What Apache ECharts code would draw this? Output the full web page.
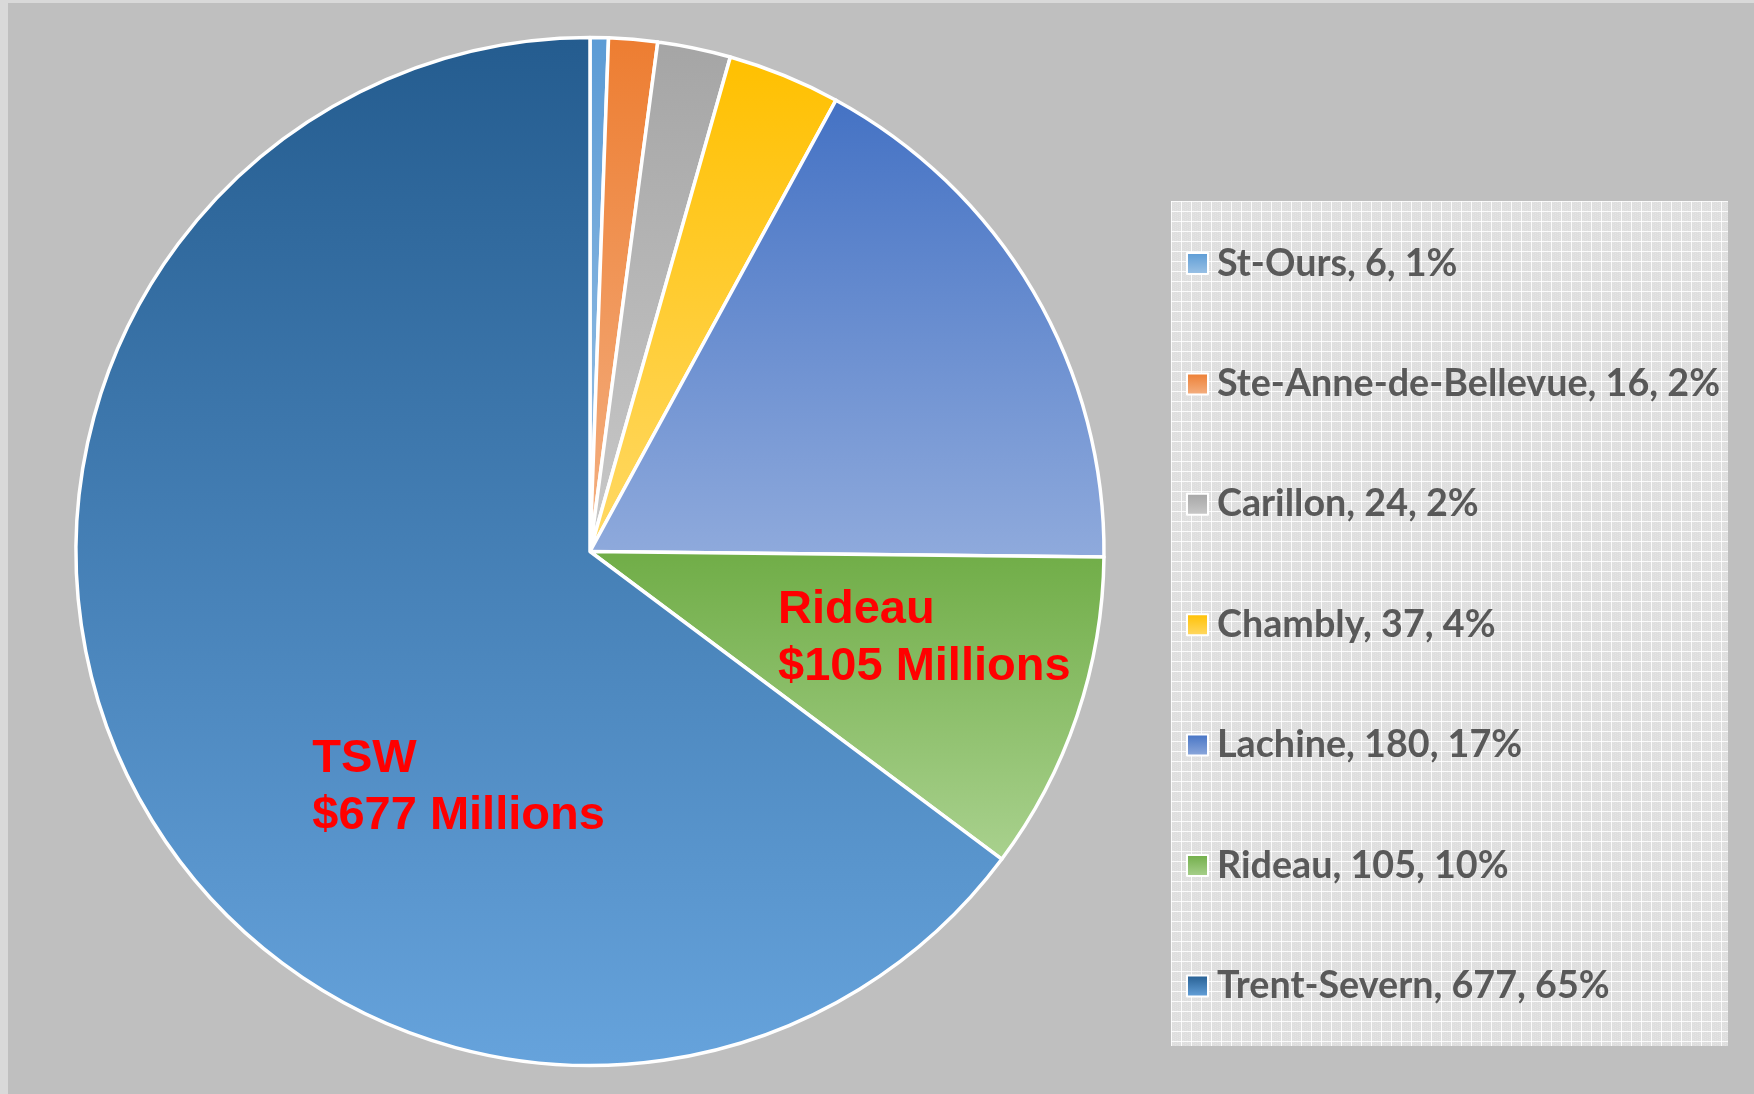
<!DOCTYPE html>
<html>
<head>
<meta charset="utf-8">
<title>Canal assets</title>
<script src="https://cdn.jsdelivr.net/npm/echarts@6/dist/echarts.min.js"></script>
<style>
  html, body {
    margin: 0;
    padding: 0;
    width: 1754px;
    height: 1094px;
    background: #d9d9d9;
    overflow: hidden;
  }
  #chart {
    position: absolute;
    left: 8px;
    top: 3px;
    width: 1746px;
    height: 1091px;
    background: #bfbfbf;
  }
</style>
</head>
<body>
<div id="chart"></div>
<script>
// data (millions of dollars)
var canals = ["St-Ours", "Ste-Anne-de-Bellevue", "Carillon", "Chambly", "Lachine", "Rideau", "Trent-Severn"];
var values = [6, 16, 24, 37, 180, 105, 677];
var percents = ["1%", "2%", "2%", "4%", "17%", "10%", "65%"];
// only two slices carry the big red labels
var bigLabels = { "Rideau": ["Rideau", "$105 Millions"], "Trent-Severn": ["TSW", "$677 Millions"] };

// top -> bottom colours of each slice gradient
var topColors = ["#5b9bd5", "#ed7d31", "#a5a5a5", "#ffc000", "#4472c4", "#70ad47", "#245c8f"];
var bottomColors = ["#9dc3e6", "#f4b183", "#c9c9c9", "#ffd966", "#8faadc", "#a9d18e", "#66a3dc"];
var labelOffsets = { "Rideau": [88, 3.5], "Trent-Severn": [101, 120] };

function grad(i) {
  return new echarts.graphic.LinearGradient(0, 0, 0, 1, [
    { offset: 0, color: topColors[i] },
    { offset: 1, color: bottomColors[i] }
  ]);
}

// grid pattern for the legend box
var pat = document.createElement("canvas");
pat.width = 10;
pat.height = 10;
var pc = pat.getContext("2d");
pc.fillStyle = "#dedede";
pc.fillRect(0, 0, 10, 10);
pc.fillStyle = "#e4e4e4";
for (var a = 0; a < 10; a += 2) {
  for (var b = (a / 2) % 2; b < 10; b += 2) {
    pc.fillRect(a, b, 1, 1);
  }
}
pc.fillStyle = "rgba(255,255,255,0.85)";
pc.fillRect(0, 0, 10, 1);
pc.fillRect(0, 0, 1, 10);

var pieData = canals.map(function (name, i) {
  var d = {
    name: name,
    value: values[i],
    itemStyle: { color: grad(i) }
  };
  if (bigLabels[name]) {
    d.label = {
      show: true,
      position: "inside",
      formatter: bigLabels[name].map(function (s) { return "{a|" + s + "}"; }).join("\n"),
      offset: labelOffsets[name]
    };
  }
  return d;
});

var chart = echarts.init(document.getElementById("chart"));

chart.setOption({
  backgroundColor: "#bfbfbf",
  animation: false,
  graphic: [
    {
      type: "rect",
      left: 1163,
      top: 198,
      shape: { width: 557, height: 845 },
      style: { fill: { image: pat, repeat: "repeat" } },
      z: -1,
      silent: true
    }
  ],
  legend: {
    orient: "vertical",
    left: 1173,
    top: 235.5,
    itemWidth: 21,
    itemHeight: 21,
    itemGap: 80.4,
    icon: "rect",
    data: canals,
    formatter: function (name) {
      var i = canals.indexOf(name);
      return name + ", " + values[i] + ", " + percents[i];
    },
    textStyle: {
      color: "#595959",
      fontFamily: "Lato",
      fontWeight: "bold",
      fontSize: 37.7,
      lineHeight: 40,
      padding: [0, 0, 0, 4]
    }
  },
  series: [
    {
      type: "pie",
      center: [582, 548.5],
      radius: [0, 514],
      startAngle: 90,
      clockwise: true,
      avoidLabelOverlap: false,
      itemStyle: {
        borderColor: "#ffffff",
        borderWidth: 3.5
      },
      label: {
        show: false,
        rich: {
          a: {
            align: "left",
            color: "#ff0000",
            fontFamily: "Liberation Sans",
            fontWeight: "bold",
            fontSize: 47,
            lineHeight: 57
          }
        }
      },
      labelLine: { show: false },
      emphasis: { disabled: true },
      data: pieData
    }
  ]
});
</script>
</body>
</html>
